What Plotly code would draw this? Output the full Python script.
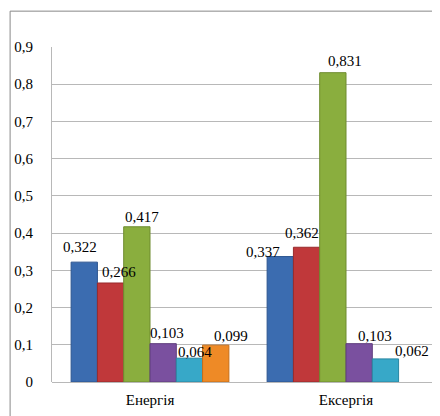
import plotly.graph_objects as go

categories = ["Енергія", "Ексергія"]
series_names = ["S1", "S2", "S3", "S4", "S5", "S6"]
s1 = [0.322, 0.337]
s2 = [0.266, 0.362]
s3 = [0.417, 0.831]
s4 = [0.103, 0.103]
s5 = [0.064, 0.062]
s6 = [0.099, None]
series_values = [s1, s2, s3, s4, s5, s6]
tick_vals = [0, 0.1, 0.2, 0.3, 0.4, 0.5, 0.6, 0.7, 0.8, 0.9]
tick_text = ["0", "0,1", "0,2", "0,3", "0,4", "0,5", "0,6", "0,7", "0,8", "0,9"]

# styling: colours and label nudges (pixels) per series / category
colors = ["#3b6cb0", "#c0383a", "#8aae3e", "#7a509f", "#37a8c8", "#ee8a26"]
edges = ["#2d5590", "#982b2d", "#6e8c2f", "#5f3d7d", "#2a87a2", "#c56d18"]
label_dx = [[-4, -17], [8, -5], [5, 12], [4, 16], [6, 27], [15, 0]]
label_dy = [[15, 5], [11, 14], [10, 12], [11, 8], [6, 8], [9, 0]]

FONT = '"Liberation Serif", "Times New Roman", "Liberation Sans", sans-serif'
FS = 15
W, H = 432, 408
ML, MT, MB = 44, 39, 34
plot_w = W - ML
unit_px = 196.0
x_hi = -0.5 + plot_w / unit_px
bargap = 0.195
n = len(series_values)
bar_px = unit_px * (1 - bargap) / n

fig = go.Figure()
annotations = []
for i, (name, vals, c, e) in enumerate(zip(series_names, series_values, colors, edges)):
    fig.add_trace(go.Bar(
        x=categories, y=vals, name=name,
        marker=dict(color=c, line=dict(color=e, width=1)),
    ))
    for j, v in enumerate(vals):
        if v is None:
            continue
        annotations.append(dict(
            x=categories[j], y=v, xref="x", yref="y",
            text=f"{v:.3f}".replace(".", ","), showarrow=False,
            xanchor="center", yanchor="middle",
            xshift=(i - (n - 1) / 2) * bar_px + label_dx[i][j],
            yshift=label_dy[i][j],
            font=dict(family=FONT, size=FS, color="black"),
        ))

fig.update_layout(
    width=W, height=H,
    margin=dict(l=ML, r=0, t=MT, b=MB, autoexpand=False),
    paper_bgcolor="white", plot_bgcolor="white",
    barmode="group", bargap=bargap, bargroupgap=0,
    showlegend=False,
    font=dict(family=FONT, size=FS, color="black"),
    xaxis=dict(range=[-0.5, x_hi], showgrid=False, showline=False,
               ticks="", ticklabelstandoff=7, automargin=False,
               tickfont=dict(family=FONT, size=FS, color="black")),
    yaxis=dict(range=[0, 0.9], tickvals=tick_vals, ticktext=tick_text,
               showgrid=True, gridcolor="#b8b8b8", gridwidth=1,
               showline=True, linecolor="#b8b8b8", linewidth=1,
               zeroline=True, zerolinecolor="#b8b8b8", zerolinewidth=1,
               ticks="", ticklabelstandoff=15, automargin=False,
               tickfont=dict(family=FONT, size=FS, color="black")),
    annotations=annotations,
    shapes=[dict(type="rect", xref="paper", yref="paper",
                 x0=-0.108, x1=1.2, y0=-0.3, y1=1.107,
                 line=dict(color="#888888", width=1), fillcolor="rgba(0,0,0,0)",
                 layer="below")],
)

fig.write_html("out.html")
